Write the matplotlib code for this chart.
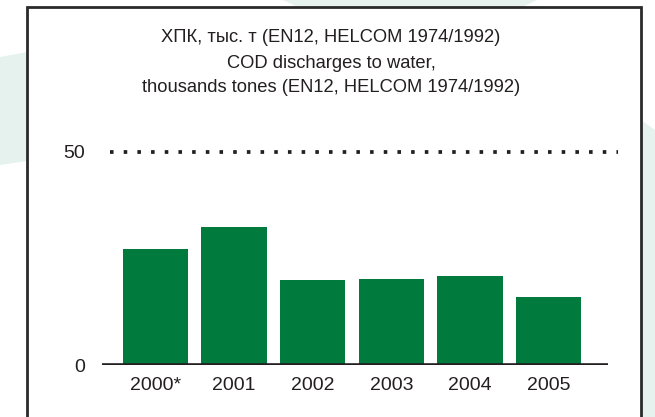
import matplotlib
matplotlib.use("Agg")
import matplotlib.pyplot as plt
from matplotlib.patches import Polygon, Rectangle

years = ["2000*", "2001", "2002", "2003", "2004", "2005"]
cod = [27.2, 32.4, 20.0, 20.2, 20.9, 16.0]
y_ticks = [0, 50]
title_lines = ["ХПК, тыс. т (EN12, HELCOM 1974/1992)",
               "COD discharges to water,",
               "thousands tones (EN12, HELCOM 1974/1992)"]

plt.rcParams["font.family"] = ["Liberation Sans", "DejaVu Sans"]

W, H = 655, 417
fig = plt.figure(figsize=(W / 100, H / 100), dpi=100)
fig.patch.set_facecolor("white")

tint = "#e6f2ee"
ink = "#231f20"
green = "#007a3d"

def px(x, y):
    return (x / W, 1 - y / H)

# light background shapes behind the frame
for pts in [[(0, 57), (27, 52), (27, 161), (0, 165)],
            [(283, 0), (537, 0), (520, 8), (300, 8)],
            [(641, 120), (655, 130), (655, 417), (641, 417)]]:
    fig.patches.append(Polygon([px(*p) for p in pts], closed=True,
                               transform=fig.transFigure, facecolor=tint,
                               edgecolor="none", zorder=0))

# frame
fig.patches.append(Rectangle(px(27, 430), (641 - 27) / W, (430 - 7) / H,
                             transform=fig.transFigure, facecolor="white",
                             edgecolor="#2a2a2a", linewidth=2, zorder=1))

# axes placement in pixels
left, right = 102, 618
bottom, top = 365, 140
ax = fig.add_axes([left / W, 1 - bottom / H, (right - left) / W, (bottom - top) / H])
ax.set_zorder(2)
ax.patch.set_alpha(0)

x = list(range(len(years)))
ax.bar(x, cod, width=0.83, color=green, zorder=2)
spacing = 78.6
ax.set_xlim((left - 155.5) / spacing, (right - 155.5) / spacing)
ax.set_ylim(0, (bottom - top) / 4.26)

# baseline and dotted reference line
ax.axhline(0, xmin=0, xmax=(608 - left) / (right - left), color=ink, linewidth=2.6,
           zorder=3, solid_capstyle="butt")
ax.axhline(50, xmin=(110 - left) / (right - left), xmax=1, color=ink, linewidth=2.7,
           linestyle=(0, (0.95, 2.7)), zorder=3)

for s in ax.spines.values():
    s.set_visible(False)
ax.set_xticks(x)
ax.set_xticklabels(years)
ax.set_yticks(y_ticks)
ax.tick_params(axis="both", length=0, labelsize=14, labelcolor=ink)
ax.tick_params(axis="x", pad=9)
ax.tick_params(axis="y", pad=12)

for line, yy in zip(title_lines, [38, 63, 88]):
    fig.text(331 / W, 1 - yy / H, line, ha="center", va="center", fontsize=13.2,
             color=ink)

fig.savefig("out.png", dpi=100)
